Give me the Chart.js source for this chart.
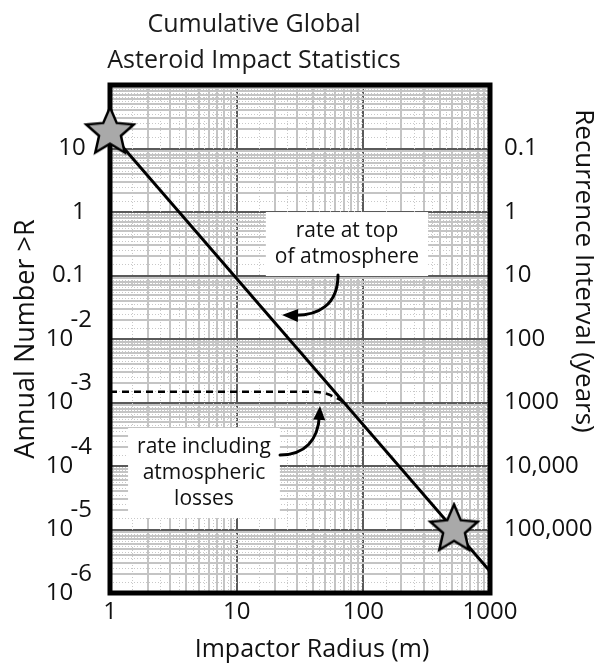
<!DOCTYPE html>
<html>
<head>
<meta charset="utf-8">
<script src="https://cdn.jsdelivr.net/npm/chart.js@4/dist/chart.umd.min.js"></script>
<style>html,body{margin:0;padding:0;background:#fff}canvas{display:block}</style>
</head>
<body>
<canvas id="c" width="614" height="665"></canvas>
<script>
// ---- text ----
const titleLines = ['Cumulative Global', 'Asteroid Impact Statistics'];
const xTitle = 'Impactor Radius (m)';
const yTitle = 'Annual Number >R';
const y2Title = 'Recurrence Interval (years)';

// ---- tick labels ----
const radiusTicks = [1, 10, 100, 1000];
const radiusLabels = ['1', '10', '100', '1000'];
const annualTicks = [10, 1, 0.1, 0.01, 0.001, 1e-4, 1e-5, 1e-6];
const annualLabels = ['10 ', '1 ', '0.1 ',
  ['-2', '10   ', ''], ['-3', '10   ', ''], ['-4', '10   ', ''],
  ['-5', '10   ', ''], ['-6', '10   ', '']];
const recurrenceTicks = [0.1, 1, 10, 100, 1000, 1e4, 1e5];
const recurrenceLabels = ['0.1', '1', '10', '100', '1000', '10,000', '100,000'];
const gridMantissas = [1, 2, 3, 4, 5, 6, 7, 8, 9];
const dottedMantissas = [1.5, 2.5, 3.5, 4.5, 5.5, 6.5, 7.5, 8.5, 9.5];
const xDecades = [1, 10, 100];
const yDecades = [1e-6, 1e-5, 1e-4, 1e-3, 1e-2, 0.1, 1, 10];

// ---- series ----
const topRateR = [1, 1000];
const topRateN = [18, 2.2e-6];
const lossR = [1, 10, 38, 45, 52, 59, 66, 72];
const lossN = [1.48e-3, 1.48e-3, 1.48e-3, 1.45e-3, 1.36e-3, 1.22e-3, 1.09e-3, 9.8e-4];
const starR = [1, 520];
const starN = [18, 1e-5];

// ---- annotations (data coordinates) ----
const noteTop = { lines: ['rate at top', 'of atmosphere'], x: 74.3, y: 0.313 };
const noteLoss = { lines: ['rate including', 'atmospheric', 'losses'], x: 5.52, y: 7.76e-5 };
const arrowTop = [[63.1, 0.102], [63.1, 0.0343], [43.9, 0.0230], [22.8, 0.0239]];
const arrowLoss = [[22.0, 1.49e-4], [34.6, 1.49e-4], [43.9, 2.56e-4], [45.5, 8.81e-4]];

const FONT = "'Open Sans', 'DejaVu Sans', sans-serif";
Chart.defaults.font.family = FONT;
Chart.defaults.color = '#111';

const isPow10 = v => Math.abs(Math.log10(v) - Math.round(Math.log10(v))) < 1e-9;
const same = (a, b) => Math.abs(Math.log10(a) - Math.log10(b)) < 1e-9;
const build = (decades, mants, last) => {
  const out = [];
  decades.forEach(d => mants.forEach(m => out.push(d * m)));
  if (last) out.push(last);
  return out;
};
const xGrid = build(xDecades, gridMantissas, 1000);
const yGrid = build(yDecades, gridMantissas, 100);
const xDotted = build(xDecades, dottedMantissas);
const yDotted = build(yDecades, dottedMantissas);

function makeStar(R, r) {
  const size = Math.ceil(2 * R + 6);
  const c = document.createElement('canvas');
  c.width = c.height = size;
  const g = c.getContext('2d');
  const cx = size / 2, cy = size / 2;
  g.beginPath();
  for (let i = 0; i < 10; i++) {
    const rad = i % 2 === 0 ? R : r;
    const a = -Math.PI / 2 + i * Math.PI / 5;
    const px = cx + rad * Math.cos(a), py = cy + rad * Math.sin(a);
    if (i === 0) g.moveTo(px, py); else g.lineTo(px, py);
  }
  g.closePath();
  g.fillStyle = '#a9a9a9';
  g.fill();
  g.lineWidth = 2.5;
  g.lineJoin = 'miter';
  g.strokeStyle = '#000';
  g.stroke();
  return c;
}
const starImg = makeStar(25, 11.5);

function drawArrow(ctx, pts, headLen, headHalf) {
  const [p0, p1, p2, p3] = pts;
  const ang = Math.atan2(p3.y - p2.y, p3.x - p2.x);
  const ca = Math.cos(ang), sa = Math.sin(ang);
  ctx.beginPath();
  ctx.moveTo(p0.x, p0.y);
  ctx.bezierCurveTo(p1.x, p1.y, p2.x, p2.y, p3.x - ca * headLen * 0.7, p3.y - sa * headLen * 0.7);
  ctx.stroke();
  ctx.beginPath();
  ctx.moveTo(p3.x, p3.y);
  ctx.lineTo(p3.x - ca * headLen + sa * headHalf, p3.y - sa * headLen - ca * headHalf);
  ctx.lineTo(p3.x - ca * headLen - sa * headHalf, p3.y - sa * headLen + ca * headHalf);
  ctx.closePath();
  ctx.fill();
}

const decorations = {
  id: 'decorations',
  beforeDatasetsDraw(chart) {
    const { ctx, chartArea: a, scales: { x, y } } = chart;
    ctx.save();
    ctx.beginPath();
    ctx.rect(a.left, a.top, a.right - a.left, a.bottom - a.top);
    ctx.clip();
    ctx.strokeStyle = '#c8c8c8';
    ctx.lineWidth = 1;
    ctx.setLineDash([1, 2]);
    xDotted.forEach(v => {
      const px = Math.round(x.getPixelForValue(v)) + 0.5;
      ctx.beginPath(); ctx.moveTo(px, a.top); ctx.lineTo(px, a.bottom); ctx.stroke();
    });
    yDotted.forEach(v => {
      const py = Math.round(y.getPixelForValue(v)) + 0.5;
      ctx.beginPath(); ctx.moveTo(a.left, py); ctx.lineTo(a.right, py); ctx.stroke();
    });
    ctx.restore();

    // annotation boxes
    ctx.save();
    ctx.font = '21px ' + FONT;
    ctx.textAlign = 'center';
    ctx.textBaseline = 'middle';
    const lh = 26;
    [noteTop, noteLoss].forEach(n => {
      const cx = x.getPixelForValue(n.x), cy = y.getPixelForValue(n.y);
      const w = Math.max(...n.lines.map(l => ctx.measureText(l).width)) + 18;
      const h = n.lines.length * lh + 12;
      ctx.fillStyle = '#fff';
      ctx.fillRect(cx - w / 2, cy - h / 2, w, h);
      ctx.fillStyle = '#111';
      n.lines.forEach((l, i) => ctx.fillText(l, cx, cy + (i - (n.lines.length - 1) / 2) * lh));
    });
    ctx.restore();

    // plot frame
    ctx.save();
    ctx.lineWidth = 5;
    ctx.strokeStyle = '#000';
    ctx.strokeRect(a.left, a.top, a.right - a.left, a.bottom - a.top);
    ctx.restore();
  },
  afterDatasetsDraw(chart) {
    const { ctx, scales: { x, y } } = chart;
    ctx.save();
    ctx.strokeStyle = '#000';
    ctx.fillStyle = '#000';
    ctx.lineWidth = 3;
    ctx.lineCap = 'round';
    const toPx = arr => arr.map(p => ({ x: x.getPixelForValue(p[0]), y: y.getPixelForValue(p[1]) }));
    drawArrow(ctx, toPx(arrowTop), 16, 6.5);
    drawArrow(ctx, toPx(arrowLoss), 14, 6);
    ctx.restore();
  },
  afterDraw(chart) {
    const { ctx, chartArea: a } = chart;
    ctx.save();
    ctx.fillStyle = '#1a1a1a';
    ctx.textAlign = 'center';
    ctx.textBaseline = 'alphabetic';
    ctx.font = '25px ' + FONT;
    ctx.fillText(titleLines[0], 254, 32);
    ctx.fillText(titleLines[1], 254, 68);
    // x axis title
    ctx.fillStyle = '#111';
    ctx.font = '25px ' + FONT;
    ctx.fillText(xTitle, 312, 657);
    // right axis title
    ctx.translate(576, 271);
    ctx.rotate(Math.PI / 2);
    ctx.font = '26px ' + FONT;
    ctx.fillText(y2Title, 0, 0);
    ctx.restore();
  }
};

const gridColor = c => isPow10(c.tick.value) ? '#5a5a5a' : '#c4c4c4';

new Chart(document.getElementById('c'), {
  type: 'line',
  data: {
    datasets: [
      {
        label: 'stars',
        data: starR.map((r, i) => ({ x: r, y: starN[i] })),
        showLine: false,
        pointStyle: starImg,
        pointRadius: 25,
        clip: false,
        order: 0
      },
      {
        label: 'rate at top of atmosphere',
        data: topRateR.map((r, i) => ({ x: r, y: topRateN[i] })),
        borderColor: '#000',
        borderWidth: 3,
        pointRadius: 0,
        tension: 0,
        order: 1
      },
      {
        label: 'rate including atmospheric losses',
        data: lossR.map((r, i) => ({ x: r, y: lossN[i] })),
        borderColor: '#000',
        borderWidth: 2.5,
        borderDash: [7, 5],
        pointRadius: 0,
        cubicInterpolationMode: 'monotone',
        order: 2
      }
    ]
  },
  options: {
    responsive: false,
    animation: false,
    devicePixelRatio: 1,
    layout: { padding: { top: 85, left: 0, right: 0, bottom: 0 } },
    plugins: { legend: { display: false }, tooltip: { enabled: false }, title: { display: false } },
    scales: {
      x: {
        type: 'logarithmic',
        position: 'bottom',
        min: 1, max: 1000,
        afterBuildTicks: s => { s.ticks = xGrid.map(v => ({ value: v })); },
        afterFit: s => { s.height = 72; s.paddingLeft = 0; s.paddingRight = 0; s.paddingTop = 0; s.paddingBottom = 0; },
        ticks: {
          autoSkip: false, maxRotation: 0, minRotation: 0, padding: 5,
          font: { size: 24 }, color: '#111',
          callback: v => { const i = radiusTicks.findIndex(t => same(t, v)); return i >= 0 ? radiusLabels[i] : ''; }
        },
        grid: { color: gridColor, lineWidth: 2, drawTicks: false },
        border: { display: false }
      },
      y: {
        type: 'logarithmic',
        position: 'left',
        min: 1e-6, max: 100,
        afterBuildTicks: s => { s.ticks = yGrid.map(v => ({ value: v })); },
        afterFit: s => { s.width = 110; s.paddingLeft = 0; s.paddingRight = 0; s.paddingTop = 0; s.paddingBottom = 0; },
        ticks: {
          autoSkip: false, padding: 18,
          font: { size: 24, lineHeight: 0.8 }, color: '#111',
          callback: v => { const i = annualTicks.findIndex(t => same(t, v)); return i >= 0 ? annualLabels[i] : ''; }
        },
        grid: { color: gridColor, lineWidth: 2, drawTicks: false },
        border: { display: false },
        title: { display: true, text: yTitle, font: { size: 27 }, color: '#111', padding: { top: 10, bottom: 0 } }
      },
      y2: {
        type: 'logarithmic',
        position: 'right',
        reverse: true,
        min: 0.01, max: 1e6,
        afterBuildTicks: s => { s.ticks = recurrenceTicks.map(v => ({ value: v })); },
        afterFit: s => { s.width = 124; s.paddingLeft = 0; s.paddingRight = 0; s.paddingTop = 0; s.paddingBottom = 0; },
        ticks: {
          autoSkip: false, padding: 14,
          font: { size: 24 }, color: '#111',
          callback: v => { const i = recurrenceTicks.findIndex(t => same(t, v)); return i >= 0 ? recurrenceLabels[i] : ''; }
        },
        grid: { drawOnChartArea: false, drawTicks: false },
        border: { display: false }
      }
    }
  },
  plugins: [decorations]
});
</script>
</body>
</html>
